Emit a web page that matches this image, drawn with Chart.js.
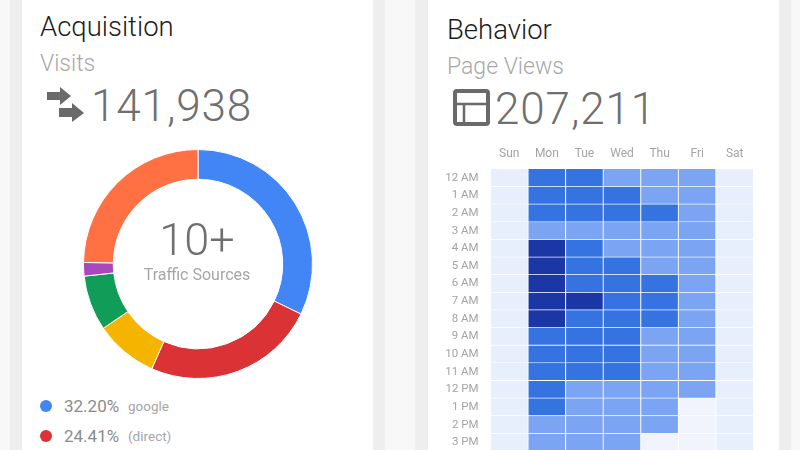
<!DOCTYPE html>
<html>
<head>
<meta charset="utf-8">
<title>Acquisition and Behavior</title>
<script src="https://cdn.jsdelivr.net/npm/chart.js@4"></script>
<style>
  html, body { margin: 0; width: 800px; height: 450px; overflow: hidden; background: #f8f8f8; }
  body { position: relative; font-family: Roboto, "Liberation Sans", sans-serif; font-weight: 300; }
  .gutter { position: absolute; top: 0; height: 450px; background: #eeeeee; }
  .card { position: absolute; top: 0; height: 450px; width: 351px; background: #fff; }
  .abs { position: absolute; white-space: nowrap; line-height: 1; }
  .title { font-size: 27.5px; color: #1c1c1c; }
  .sub { font-size: 23px; color: #a8a8a8; }
  .big { font-size: 44px; color: #6f6f6f; letter-spacing: 0.9px; }
  .pct { font-size: 17px; color: #8c8c8c; font-weight: 400; }
  .src { font-size: 13.5px; color: #a6a6a6; font-weight: 400; }
  .dot { position: absolute; width: 12px; height: 12px; border-radius: 50%; }
  canvas { position: absolute; }
  svg { position: absolute; }
</style>
</head>
<body>
<div class="gutter" style="left:10px;width:375px"></div>
<div class="gutter" style="left:415px;width:376px"></div>
<div class="card" style="left:22px"></div>
<div class="card" style="left:428px"></div>

<div class="abs title" style="left:40px;top:13px">Acquisition</div>
<div class="abs sub" style="left:40px;top:52px">Visits</div>
<svg style="left:46px;top:86px" width="40" height="38" viewBox="0 0 40 38" fill="#6a6a6a">
  <path d="M1 6H14V1L25 10L14 19V14H1Z"/>
  <path d="M13 22H26V17L38 27L26 36V31H13Z"/>
</svg>
<div class="abs big" id="visits" style="left:91px;top:84px"></div>

<canvas id="sources" style="left:82.5px;top:149px"></canvas>
<div class="abs" id="sourceCount" style="left:97px;width:200px;text-align:center;top:217px;font-size:45px;color:#6f6f6f"></div>
<div class="abs" style="left:97px;width:200px;text-align:center;top:267px;font-size:16px;color:#a6a6a6;font-weight:400">Traffic Sources</div>

<div class="dot" style="left:40px;top:400px;background:#4285f4"></div>
<div class="abs pct" id="pct0" style="left:64px;top:398px"></div>
<div class="abs src" id="src0" style="left:128px;top:400px"></div>
<div class="dot" style="left:40px;top:430px;background:#db3236"></div>
<div class="abs pct" id="pct1" style="left:64px;top:428px"></div>
<div class="abs src" id="src1" style="left:128px;top:430px"></div>

<div class="abs title" style="left:447px;top:16px">Behavior</div>
<div class="abs sub" style="left:447px;top:55px">Page Views</div>
<svg style="left:452px;top:88px" width="39" height="39" viewBox="0 0 39 39" fill="none" stroke="#6a6a6a">
  <rect x="3" y="3" width="33" height="33" rx="2" stroke-width="4"/>
  <path d="M3 16H36M12 16V36" stroke-width="2.5"/>
</svg>
<div class="abs big" id="pageViews" style="left:495px;top:87px"></div>

<canvas id="heatmap" style="left:430px;top:140px"></canvas>

<script>
const sourceNames = ['google', '(direct)', 'referral', 'social', 'email', 'other']
const sourceShares = [32.2, 24.41, 8.9, 7.8, 1.9, 24.79]
const sourceColors = ['#4285f4', '#db3236', '#f4b400', '#0f9d58', '#ab47bc', '#ff7043']

const visits = 141938
const pageViews = 207211

const days = ['Sun', 'Mon', 'Tue', 'Wed', 'Thu', 'Fri', 'Sat']
const hours = ['12 AM', '1 AM', '2 AM', '3 AM', '4 AM', '5 AM', '6 AM', '7 AM',
  '8 AM', '9 AM', '10 AM', '11 AM', '12 PM', '1 PM', '2 PM', '3 PM']

// traffic level per hour, one list for each day
const sun = [1, 1, 1, 1, 1, 1, 1, 1, 1, 1, 1, 1, 1, 1, 1, 1]
const mon = [3, 3, 3, 2, 4, 4, 4, 4, 4, 3, 3, 3, 3, 3, 2, 2]
const tue = [3, 3, 3, 2, 3, 3, 3, 4, 3, 3, 3, 3, 2, 2, 2, 2]
const wed = [2, 3, 3, 2, 2, 3, 3, 3, 3, 3, 3, 3, 2, 2, 2, 2]
const thu = [2, 2, 3, 2, 2, 2, 3, 3, 3, 2, 2, 2, 2, 2, 2, 0]
const fri = [2, 2, 2, 2, 2, 2, 2, 2, 2, 2, 2, 2, 2, 0, 0, 0]
const sat = [1, 1, 1, 1, 1, 1, 1, 1, 1, 1, 1, 1, 1, 1, 1, 1]
const byDay = [sun, mon, tue, wed, thu, fri, sat]

const shades = ['#f1f4fc', '#e7eefc', '#7ba4f2', '#3573e0', '#1b37a6']

document.getElementById('visits').textContent = visits.toLocaleString('en-US')
document.getElementById('pageViews').textContent = pageViews.toLocaleString('en-US')
document.getElementById('sourceCount').textContent = (sourceNames.length + 4) + '+'
for (let i = 0; i < 2; i++) {
  document.getElementById('pct' + i).textContent = sourceShares[i].toFixed(2) + '%'
  document.getElementById('src' + i).textContent = sourceNames[i]
}

const sourcesCanvas = document.getElementById('sources')
sourcesCanvas.width = 230
sourcesCanvas.height = 230
new Chart(sourcesCanvas.getContext('2d'), {
  type: 'doughnut',
  data: {
    labels: sourceNames,
    datasets: [{
      data: sourceShares,
      backgroundColor: sourceColors,
      borderColor: '#ffffff',
      borderWidth: 1
    }]
  },
  options: {
    responsive: false,
    animation: false,
    cutout: '74%',
    plugins: { legend: { display: false }, tooltip: { enabled: false } }
  }
})

// one stacked dataset per hour, so every cell is a bar of height 1 coloured by its level
const hourRows = hours.map(function (hour, row) {
  return {
    label: hour,
    data: days.map(function () { return 1 }),
    backgroundColor: function (ctx) { return shades[byDay[ctx.dataIndex][row]] },
    borderColor: '#ffffff',
    borderWidth: 0.8,
    barPercentage: 1,
    categoryPercentage: 1,
    yAxisID: 'y'
  }
})

const heatCanvas = document.getElementById('heatmap')
heatCanvas.width = 340
heatCanvas.height = 322
new Chart(heatCanvas.getContext('2d'), {
  type: 'bar',
  data: { labels: days, datasets: hourRows },
  options: {
    responsive: false,
    animation: false,
    layout: { padding: { right: 16.5 } },
    plugins: { legend: { display: false }, tooltip: { enabled: false } },
    scales: {
      x: {
        position: 'top',
        stacked: true,
        border: { display: false },
        grid: { display: false },
        ticks: { color: '#a4a4a4', padding: 0, maxRotation: 0, font: { family: 'Roboto', size: 12 } },
        afterFit: function (scale) { scale.height = 29 }
      },
      y: { display: false, stacked: true, reverse: true, min: 0, max: hours.length },
      hours: {
        type: 'category',
        labels: hours,
        position: 'left',
        offset: true,
        border: { display: false },
        grid: { display: false },
        ticks: { color: '#a4a4a4', padding: 4, autoSkip: false, font: { family: 'Roboto', size: 11.5 } },
        afterFit: function (scale) { scale.width = 60.5 }
      }
    }
  }
})
</script>
</body>
</html>
